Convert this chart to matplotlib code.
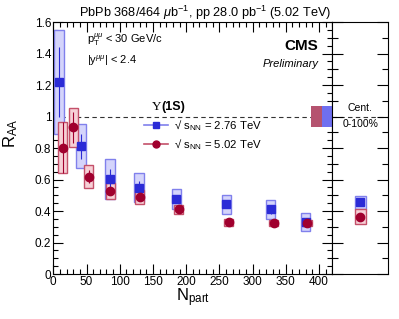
import numpy as np
import matplotlib.pyplot as plt
from matplotlib.patches import Rectangle
from matplotlib.lines import Line2D
from matplotlib.ticker import MultipleLocator

plt.rcParams['font.family'] = ['Liberation Sans', 'DejaVu Sans']
plt.rcParams['mathtext.fontset'] = 'custom'
plt.rcParams['mathtext.rm'] = 'Liberation Sans'
plt.rcParams['mathtext.it'] = 'Liberation Sans:italic'
plt.rcParams['mathtext.bf'] = 'Liberation Sans:bold'

# 2.76 TeV (blue squares)
npart_276 = [8.5, 41.5, 85.5, 129, 185, 260.5, 327.5, 380]
raa_276 = [1.22, 0.81, 0.603, 0.548, 0.476, 0.442, 0.41, 0.332]
stat_276 = [0.22, 0.08, 0.065, 0.045, 0.025, 0.02, 0.03, 0.02]
syst_276 = [0.33, 0.14, 0.125, 0.093, 0.065, 0.06, 0.062, 0.056]

# 5.02 TeV (red circles)
npart_502 = [14, 30, 53.5, 86, 130, 188.5, 264, 332, 382]
raa_502 = [0.802, 0.931, 0.618, 0.525, 0.487, 0.41, 0.328, 0.324, 0.324]
stat_502 = [0.16, 0.1, 0.04, 0.025, 0.02, 0.015, 0.01, 0.01, 0.01]
syst_502 = [0.16, 0.125, 0.072, 0.05, 0.045, 0.028, 0.022, 0.02, 0.02]

# centrality integrated
int_raa = [0.455, 0.364]
int_stat = [0.015, 0.01]
int_syst = [0.042, 0.047]

# global uncertainties at unity
glob_unc = [0.067, 0.067]

labels = ['√ s$_{\\mathrm{NN}}$ = 2.76 TeV', '√ s$_{\\mathrm{NN}}$ = 5.02 TeV']

blue = '#2b2bd6'
blue_fill = '#d4d4fb'
blue_edge = '#8080ec'
red = '#a0002e'
red_fill = '#f6d0d6'
red_edge = '#c4506a'

fig = plt.figure(figsize=(3.99, 3.19), dpi=100)
ax = fig.add_axes([0.1336, 0.141, 0.6992, 0.790])
ax2 = fig.add_axes([0.8328, 0.141, 0.1404, 0.790])

half_w = 7
for x, y, s in zip(npart_276, raa_276, syst_276):
    x0 = max(x - half_w, 0)
    ax.add_patch(Rectangle((x0, y - s), x + half_w - x0, 2 * s, facecolor=blue_fill,
                           edgecolor=blue_edge, lw=1.0, zorder=2))
for x, y, s in zip(npart_502, raa_502, syst_502):
    ax.add_patch(Rectangle((x - half_w, y - s), 2 * half_w, 2 * s, facecolor=red_fill,
                           edgecolor=red_edge, lw=1.0, zorder=2))

ax.errorbar(npart_276, raa_276, yerr=stat_276, fmt='s', color=blue, ms=5.5,
            elinewidth=0.8, capsize=0, zorder=4)
ax.errorbar(npart_502, raa_502, yerr=stat_502, fmt='o', color=red, ms=6,
            elinewidth=0.8, capsize=0, zorder=4)

# global uncertainty boxes
ax.add_patch(Rectangle((388.5, 1 - glob_unc[1]), 16, 2 * glob_unc[1], facecolor='#b5536f',
                       edgecolor='none', zorder=3))
ax.add_patch(Rectangle((404.5, 1 - glob_unc[0]), 15.5, 2 * glob_unc[0], facecolor='#6f6ff0',
                       edgecolor='none', zorder=3))

ax.axhline(1, color='#333333', ls=(0, (4, 3)), lw=0.8, zorder=1)
ax.set_xlim(0, 420)
ax.set_ylim(0, 1.6)
ax.xaxis.set_major_locator(MultipleLocator(50))
ax.xaxis.set_minor_locator(MultipleLocator(10))
ax.yaxis.set_major_locator(MultipleLocator(0.2))
ax.yaxis.set_minor_locator(MultipleLocator(0.05))
ax.yaxis.set_major_formatter(plt.FuncFormatter(lambda v, p: ('%g' % round(v, 2))))
ax.tick_params(which='both', direction='in', top=True, right=True, labelsize=8.5, pad=1.5)
ax.tick_params(which='major', length=7, width=0.8)
ax.tick_params(which='minor', length=3.5, width=0.8)
ax.set_xlabel(r'N$_{\mathrm{part}}$', fontsize=12, labelpad=-1)
ax.set_ylabel(r'R$_{\mathrm{AA}}$', fontsize=12)
ax.yaxis.set_label_coords(-0.118, 0.56)

ax.text(0.12, 0.93, r'p$_{\mathrm{T}}^{\mu\mu}$ < 30 GeV/c', transform=ax.transAxes,
        fontsize=8, va='center')
ax.text(0.12, 0.845, r'|y$^{\mu\mu}$| < 2.4', transform=ax.transAxes, fontsize=8, va='center')
ax.text(0.95, 0.905, 'CMS', transform=ax.transAxes, fontsize=11, fontweight='bold',
        ha='right', va='center')
ax.text(0.95, 0.835, 'Preliminary', transform=ax.transAxes, fontsize=8, style='italic',
        ha='right', va='center')
ax.text(0.354, 0.663, 'Υ', transform=ax.transAxes, fontsize=9.5,
        ha='left', va='center', family=['Liberation Serif'])
ax.text(0.388, 0.663, '(1S)', transform=ax.transAxes, fontsize=9, fontweight='bold',
        ha='left', va='center')

handles = [Line2D([], [], color=blue_edge, lw=1.2, marker='s', ms=4.5, mfc=blue, mec=blue),
           Line2D([], [], color=red_edge, lw=1.2, marker='o', ms=5, mfc=red, mec=red)]
leg = ax.legend(handles, labels, loc='upper left', bbox_to_anchor=(0.325, 0.62),
                frameon=False, fontsize=8.2, handlelength=2.1, labelspacing=0.4,
                borderpad=0, borderaxespad=0, handletextpad=0.5)

fig.text(0.515, 0.958, r'PbPb 368/464 $\mu$b$^{-1}$, pp 28.0 pb$^{-1}$ (5.02 TeV)',
         ha='center', va='center', fontsize=9.2)

# integrated panel
ax2.add_patch(Rectangle((0.4, int_raa[0] - int_syst[0]), 0.2, 2 * int_syst[0],
                        facecolor=blue_fill, edgecolor=blue_edge, lw=1.0, zorder=2))
ax2.add_patch(Rectangle((0.4, int_raa[1] - int_syst[1]), 0.2, 2 * int_syst[1],
                        facecolor=red_fill, edgecolor=red_edge, lw=1.0, zorder=2))
ax2.errorbar([0.5], [int_raa[0]], yerr=[int_stat[0]], fmt='s', color=blue, ms=5.5,
             elinewidth=0.8, capsize=0, zorder=4)
ax2.errorbar([0.5], [int_raa[1]], yerr=[int_stat[1]], fmt='o', color=red, ms=6,
             elinewidth=0.8, capsize=0, zorder=4)
ax2.axhline(1, color='#333333', ls=(0, (4, 3)), lw=0.8, zorder=1)
ax2.set_xlim(0, 1)
ax2.set_ylim(0, 1.6)
ax2.set_xticks([])
ax2.yaxis.set_major_locator(MultipleLocator(0.2))
ax2.yaxis.set_minor_locator(MultipleLocator(0.1))
ax2.tick_params(axis='y', which='both', direction='in', left=True, right=True,
                labelleft=False)
ax2.tick_params(axis='y', which='major', length=8, width=0.8)
ax2.tick_params(axis='y', which='minor', length=4, width=0.8)
ax2.text(0.5, 1.055, 'Cent.', ha='center', va='center', fontsize=7.5)
ax2.text(0.5, 0.95, '0-100%', ha='center', va='center', fontsize=7.5)

fig.savefig('out.png', dpi=100)
